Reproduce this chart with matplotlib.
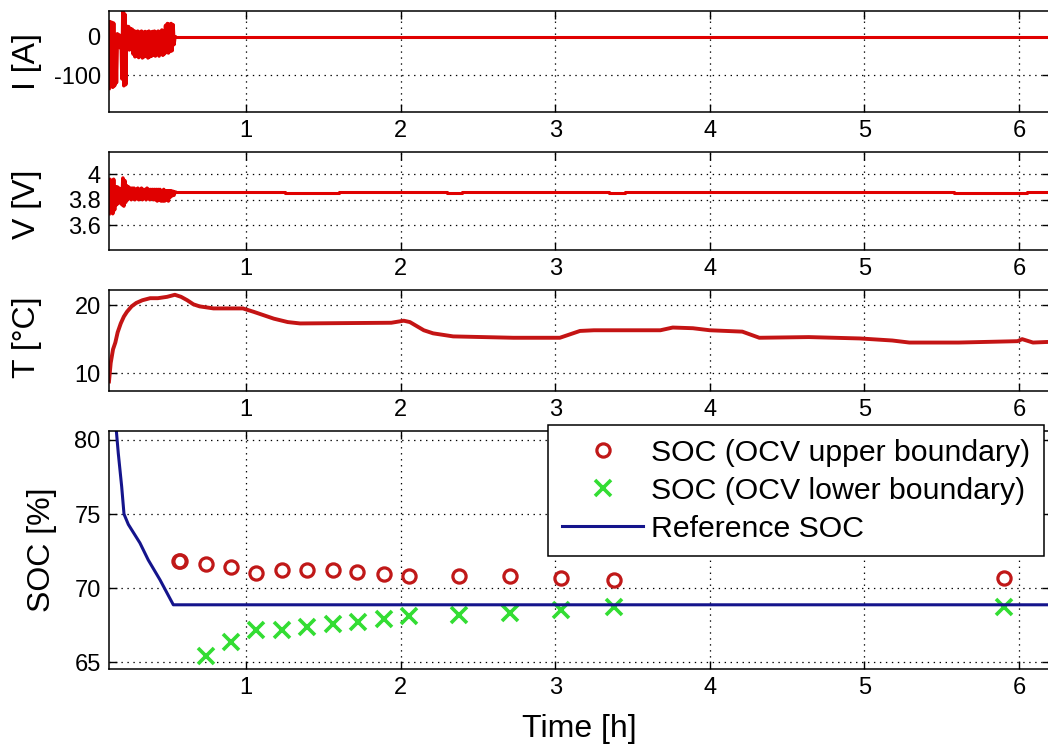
import matplotlib
matplotlib.use("Agg")
import matplotlib.pyplot as plt

plt.rcParams["font.family"] = ["Liberation Sans", "DejaVu Sans"]
plt.rcParams["lines.scale_dashes"] = False

# --- data ---
# burst at the start of the test (shared time samples for current and voltage)
burst_t = [
    0.114, 0.120, 0.126, 0.132, 0.138, 0.144, 0.150, 0.156, 0.162, 0.168,
    0.174, 0.180, 0.186, 0.192, 0.198, 0.204, 0.210, 0.216, 0.222, 0.228,
    0.234, 0.240, 0.246, 0.252, 0.258, 0.264, 0.270, 0.276, 0.282, 0.288,
    0.294, 0.300, 0.306, 0.312, 0.318, 0.324, 0.330, 0.336, 0.342, 0.348,
    0.354, 0.360, 0.366, 0.372, 0.378, 0.384, 0.390, 0.396, 0.402, 0.408,
    0.414, 0.420, 0.426, 0.432, 0.438, 0.444, 0.450, 0.456, 0.462, 0.468,
    0.474, 0.480, 0.486, 0.492, 0.498, 0.504, 0.510, 0.516, 0.522, 0.528,
    0.534, 0.540,
]
burst_current = [
    -135, 40, -130, 38, -132, 36, -128, 5, -120, 8,
    -25, 5, -28, 2, -110, 67, -128, 60, -125, 28,
    -32, 27, -34, 22, -30, 20, -45, 16, -52, 14,
    -50, 15, -54, 12, -50, 15, -55, 12, -52, 14,
    -50, 12, -55, 15, -52, 12, -50, 14, -48, 15,
    -50, 12, -46, 15, -50, 14, -45, 18, -48, 15,
    -44, 30, -40, 35, -42, 33, -38, 35, -36, 32,
    -20, 0,
]
burst_voltage = [
    3.69, 3.96, 3.70, 3.95, 3.69, 3.96, 3.72, 3.90, 3.76, 3.90,
    3.77, 3.89, 3.79, 3.88, 3.76, 3.97, 3.75, 3.95, 3.78, 3.91,
    3.80, 3.90, 3.81, 3.89, 3.80, 3.89, 3.81, 3.89, 3.80, 3.88,
    3.81, 3.89, 3.80, 3.88, 3.81, 3.89, 3.80, 3.88, 3.81, 3.88,
    3.80, 3.89, 3.81, 3.88, 3.80, 3.88, 3.81, 3.88, 3.80, 3.88,
    3.80, 3.88, 3.79, 3.88, 3.80, 3.88, 3.79, 3.87, 3.79, 3.88,
    3.79, 3.87, 3.80, 3.87, 3.79, 3.87, 3.82, 3.87, 3.83, 3.865,
    3.835, 3.86,
]

rest_current_t = [0.540, 6.20]
rest_current = [0, 0]

rest_voltage_t = [0.546, 1.25, 1.25, 1.60, 1.60, 2.30, 2.30, 2.40, 2.40,
                  3.35, 3.35, 3.45, 3.45, 5.58, 5.58, 6.05, 6.05, 6.20]
rest_voltage = [3.857, 3.857, 3.853, 3.853, 3.857, 3.857, 3.853, 3.853, 3.857,
                3.857, 3.853, 3.853, 3.857, 3.857, 3.851, 3.851, 3.857, 3.857]

temp_t = [0.114, 0.125, 0.140, 0.155, 0.170, 0.190, 0.210, 0.230, 0.260, 0.290,
          0.330, 0.380, 0.430, 0.490, 0.540, 0.580, 0.620, 0.660, 0.700, 0.790,
          0.980, 1.050, 1.180, 1.270, 1.350, 1.940, 2.020, 2.060, 2.150, 2.210,
          2.340, 2.730, 2.900, 3.030, 3.160, 3.250, 3.680, 3.760, 3.890, 4.000,
          4.210, 4.320, 4.640, 4.970, 5.180, 5.290, 5.610, 5.990, 6.020, 6.090,
          6.200]
temp_c = [8.8, 11.5, 13.5, 14.5, 16.0, 17.3, 18.3, 19.0, 19.8, 20.3,
          20.7, 21.0, 21.0, 21.2, 21.5, 21.2, 20.7, 20.1, 19.8, 19.5,
          19.5, 19.0, 18.0, 17.5, 17.3, 17.4, 17.7, 17.5, 16.3, 15.85,
          15.4, 15.2, 15.2, 15.2, 16.2, 16.3, 16.3, 16.7, 16.6, 16.3,
          16.1, 15.2, 15.3, 15.1, 14.8, 14.5, 14.5, 14.7, 15.0, 14.5,
          14.6]

ref_soc_t = [0.150, 0.174, 0.196, 0.211, 0.239, 0.314, 0.368, 0.444, 0.530, 6.20]
ref_soc = [82.0, 79.1, 76.85, 75.0, 74.3, 73.05, 71.9, 70.56, 68.88, 68.88]

upper_t = [0.565, 0.575, 0.74, 0.904, 1.064, 1.235, 1.395, 1.56, 1.715, 1.89,
           2.057, 2.38, 2.71, 3.04, 3.38, 5.90]
upper_soc = [71.85, 71.8, 71.6, 71.43, 71.02, 71.2, 71.2, 71.25, 71.07, 70.98,
             70.84, 70.84, 70.84, 70.68, 70.55, 70.67]

lower_t = [0.74, 0.904, 1.064, 1.235, 1.395, 1.56, 1.725, 1.89, 2.057, 2.38,
           2.71, 3.04, 3.38, 5.90]
lower_soc = [65.45, 66.36, 67.2, 67.16, 67.39, 67.6, 67.73, 67.95, 68.1, 68.2,
             68.3, 68.5, 68.7, 68.76]

x_ticks = [1, 2, 3, 4, 5, 6]

W, H = 1048, 751
RED = "#e00000"
DARK_RED = "#c41414"


def px_box(top, bottom, left=109, right=1050):
    return [left / W, 1 - bottom / H, (right - left) / W, (bottom - top) / H]


def style_axes(ax, yticks, ylim):
    ax.set_xlim(0.114, 6.20)
    ax.set_ylim(*ylim)
    ax.set_xticks(x_ticks)
    ax.set_yticks(yticks)
    ax.tick_params(direction="in", length=6, width=1, top=True, right=True,
                   labelsize=17, pad=6, colors="black")
    ax.grid(True, color="black", linestyle=(0, (1.0, 3.3)), linewidth=0.9)
    for s in ax.spines.values():
        s.set_linewidth(1.1)


fig = plt.figure(figsize=(W / 100, H / 100), dpi=100)

ax1 = fig.add_axes(px_box(11, 112))
ax1.plot(burst_t, burst_current, color=RED, lw=2.6)
ax1.plot(rest_current_t, rest_current, color=RED, lw=2.2)
style_axes(ax1, [-100, 0], (-197, 68))
ax1.set_yticklabels(["-100", "0"])

ax2 = fig.add_axes(px_box(152, 250))
ax2.plot(burst_t, burst_voltage, color=RED, lw=2.6)
ax2.plot(rest_voltage_t, rest_voltage, color=RED, lw=2.2)
style_axes(ax2, [3.6, 3.8, 4.0], (3.404, 4.175))
ax2.set_yticklabels(["3.6", "3.8", "4"])

ax3 = fig.add_axes(px_box(290, 391))
ax3.plot(temp_t, temp_c, color=DARK_RED, lw=2.8)
style_axes(ax3, [10, 20], (7.4, 22.2))

ax4 = fig.add_axes(px_box(431, 669))
h_up, = ax4.plot(upper_t, upper_soc, linestyle="none", marker="o", ms=9.5,
                 mfc="none", mec="#c01818", mew=2.3,
                 label="SOC (OCV upper boundary)")
h_low, = ax4.plot(lower_t, lower_soc, linestyle="none", marker="x", ms=12,
                  mec="#33dd33", mew=2.6,
                  label="SOC (OCV lower boundary)")
h_ref, = ax4.plot(ref_soc_t, ref_soc, color="#14148c", lw=2.2,
                  label="Reference SOC")
style_axes(ax4, [65, 70, 75, 80], (64.55, 80.6))

leg = ax4.legend(handles=[h_up, h_low, h_ref], loc="upper left",
                 bbox_to_anchor=(548 / W, 1 - 425 / H),
                 bbox_transform=fig.transFigure, borderaxespad=0,
                 fontsize=21.8, frameon=True, fancybox=False, framealpha=1,
                 edgecolor="black", borderpad=0.45, labelspacing=0.33,
                 handlelength=2.7, handletextpad=0.25)
leg.get_frame().set_linewidth(1.1)

ylabel_kw = dict(rotation=90, ha="center", va="center", fontsize=23)
fig.text(27 / W, 1 - 62 / H, "I [A]", **ylabel_kw)
fig.text(27 / W, 1 - 204 / H, "V [V]", **ylabel_kw)
fig.text(27 / W, 1 - 337 / H, "T [°C]", **ylabel_kw)
fig.text(42 / W, 1 - 550 / H, "SOC [%]", **ylabel_kw)
fig.text(579 / W, 1 - 729 / H, "Time [h]", ha="center", va="center", fontsize=23)

fig.savefig("out.png", dpi=100)
